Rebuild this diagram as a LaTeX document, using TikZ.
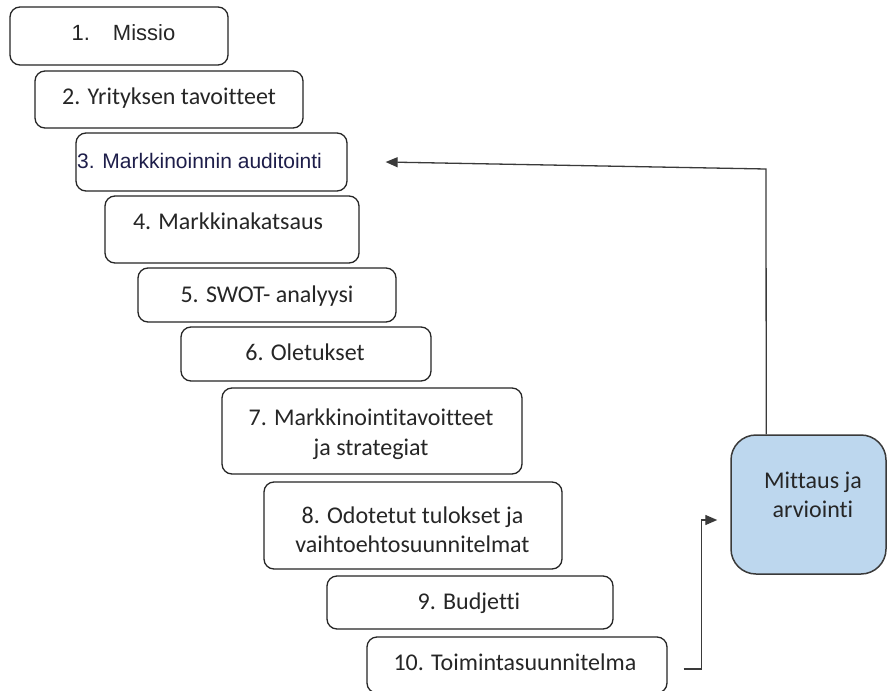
\documentclass[tikz,border=0pt]{standalone}
\usepackage{fontspec}
\setmainfont{Carlito}[Ligatures=NoCommon]
\newfontfamily\arialf{Liberation Sans}
\usetikzlibrary{arrows.meta,calc}
\definecolor{boxline}{HTML}{262626}
\definecolor{txt}{HTML}{262626}
\definecolor{mfill}{HTML}{BDD7EE}
\definecolor{arrline}{HTML}{3A3A3A}
\definecolor{navy}{HTML}{1E1E4A}
\begin{document}
\begin{tikzpicture}[x=1pt,y=-1pt,
  stepbox/.style={draw=boxline, line width=1.3pt, rounded corners=10pt, fill=white, inner sep=0pt},
  lbl/.style={inner sep=0pt, text=txt, font=\fontsize{24}{29}\selectfont, align=center, text height=16pt, text depth=5pt},
  mlbl/.style={inner sep=0pt, text=txt, font=\fontsize{24}{29.5}\selectfont, align=center},
  albl/.style={inner sep=0pt, text=navy, font=\arialf\fontsize{21}{25}\selectfont, text height=15pt, text depth=4pt},
  conn/.style={draw=arrline, line width=1.4pt, -{Triangle[length=12pt,width=10pt]}}]
\useasboundingbox (0,0) rectangle (887,691);
\fill[white] (0,0) rectangle (887,691);
% boxes
\node[stepbox, minimum width=218pt, minimum height=58pt] (b1) at (119,36) {};
\node[stepbox, minimum width=268pt, minimum height=57pt] (b2) at (169,99.5) {};
\node[stepbox, minimum width=271pt, minimum height=58pt] (b3) at (211.5,162) {};
\node[stepbox, minimum width=254pt, minimum height=67pt] (b4) at (232,229.5) {};
\node[stepbox, minimum width=258pt, minimum height=54pt] (b5) at (267,295) {};
\node[stepbox, minimum width=250pt, minimum height=54pt] (b6) at (306,354) {};
\node[stepbox, minimum width=300pt, minimum height=86pt] (b7) at (372,431) {};
\node[stepbox, minimum width=298pt, minimum height=87pt] (b8) at (413,525.5) {};
\node[stepbox, minimum width=286pt, minimum height=53pt] (b9) at (470,602.5) {};
\node[stepbox, minimum width=300pt, minimum height=56pt] (b10) at (517,665) {};
\node[draw=arrline, line width=1.5pt, rounded corners=25pt, fill=mfill, inner sep=0pt,
      minimum width=155pt, minimum height=139pt] (bm) at (808.5,504.5) {};
% texts
\node[albl, text=txt, font=\arialf\fontsize{22}{26}\selectfont] (t1) at (123.5,35) {1.\hspace{23pt}Missio};
\node[lbl] (t2) at (169,99) {2. Yrityksen tavoitteet};
\node[albl, anchor=west] (t3) at (77,163) {3. Markkinoinnin auditointi};
\node[lbl] (t4) at (228,224) {4. Markkinakatsaus};
\node[lbl] (t5) at (267,297) {5. SWOT- analyysi};
\node[lbl] (t6) at (305,355) {6. Oletukset};
\node[mlbl] (t7) at (371,434) {7. Markkinointitavoitteet\\ja strategiat};
\node[mlbl] (t8) at (412.5,529.5) {8. Odotetut tulokset ja\\vaihtoehtosuunnitelmat};
\node[lbl] (t9) at (469,604) {9. Budjetti};
\node[lbl] (t10) at (515,665) {10. Toimintasuunnitelma};
\node[mlbl] (tm) at (813,495) {Mittaus ja\\arviointi};
% connectors
\coordinate (fbA) at ($(bm.north west)+(36,0)$);
\coordinate (fbB) at (766,169);
\coordinate (fbEnd) at ($(b3.east)+(38,0)$);
\draw[conn, line width=1.3pt] (fbA) -- (fbB) -- (fbEnd);
\coordinate (lA) at ($(b10.east)+(16,4)$);
\coordinate (lEnd) at ($(bm.west)+(-13,15.5)$);
\draw[conn] (lA) -- ++(18,0) |- (lEnd);
\end{tikzpicture}
\end{document}
